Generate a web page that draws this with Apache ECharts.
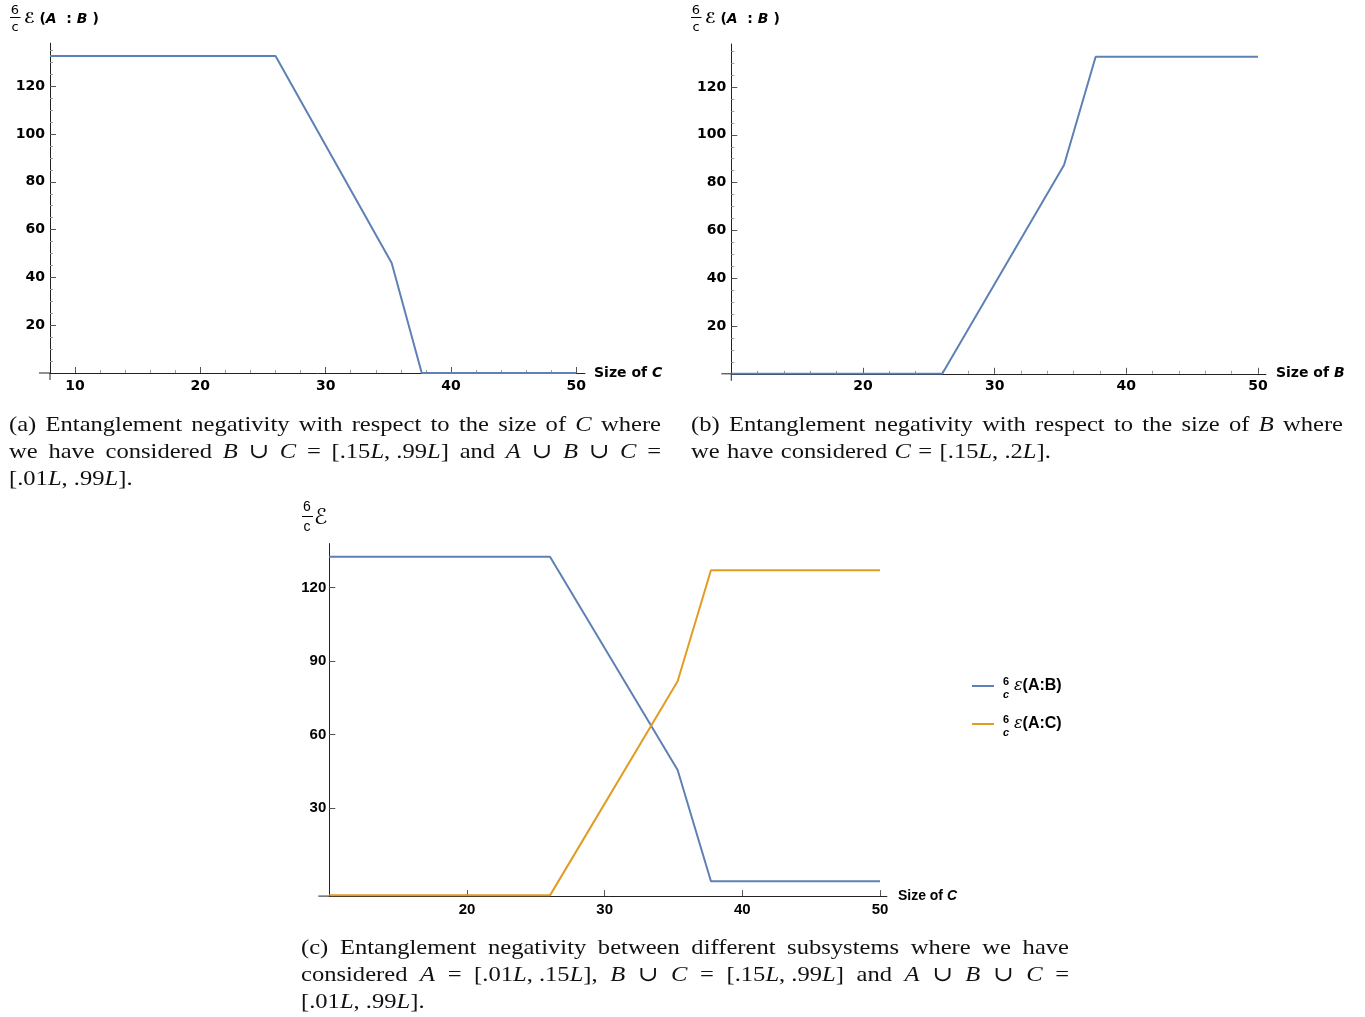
<!DOCTYPE html>
<html>
<head>
<meta charset="utf-8">
<script src="https://cdn.jsdelivr.net/npm/echarts@6/dist/echarts.min.js"></script>
<style>
html,body{margin:0;padding:0;background:#fff;}
#c{width:1365px;height:1017px;}
</style>
</head>
<body>
<div id="c"></div>
<script>
// ---------------- DATA ----------------
// (a) negativity A:B vs size of C
const sizeC_a = [8, 26, 35.27, 37.67, 50];
const negAB_a = [132.6, 132.6, 46.0, 0, 0];
// (b) negativity A:B vs size of B
const sizeB_b = [10, 26.02, 35.27, 37.67, 50];
const negAB_b = [0, 0, 87.4, 132.7, 132.7];
// (c) negativity A:B and A:C vs size of C
const sizeC_c = [10, 26.03, 35.3, 37.72, 50];
const negAB_c = [132.6, 132.6, 45.5, 0.1, 0.1];
const negAC_c = [-5.7, -5.7, 81.8, 127.1, 127.1];

// tick values
const xTicksA = [10, 20, 30, 40, 50];
const xMinorA = [12, 14, 16, 18, 22, 24, 26, 28, 32, 34, 36, 38, 42, 44, 46, 48];
const xTicksB = [20, 30, 40, 50];
const xMinorB = [12, 14, 16, 18, 22, 24, 26, 28, 32, 34, 36, 38, 42, 44, 46, 48];
const yTicksAB = [20, 40, 60, 80, 100, 120];
const yMinorAB = [5, 10, 15, 25, 30, 35, 45, 50, 55, 65, 70, 75, 85, 90, 95, 105, 110, 115, 125, 130, 135];
const xTicksC = [20, 30, 40, 50];
const yTicksC = [30, 60, 90, 120];

const seriesNames = ['ε(A:B)', 'ε(A:C)'];

// captions ({X} = italic math letter, ~ = unbreakable space)
const captionA = [
  {t: '(a) Entanglement negativity with respect to the size of {C} where', j: true},
  {t: 'we have considered {B} ∪ {C} = [.15{L},~.99{L}] and {A} ∪ {B} ∪ {C} =', j: true},
  {t: '[.01{L},~.99{L}].', j: false}
];
const captionB = [
  {t: '(b) Entanglement negativity with respect to the size of {B} where', j: true},
  {t: 'we have considered {C} = [.15{L},~.2{L}].', j: false}
];
const captionC = [
  {t: '(c) Entanglement negativity between different subsystems where we have', j: true},
  {t: 'considered {A} = [.01{L},~.15{L}], {B} ∪ {C} = [.15{L},~.99{L}] and {A} ∪ {B} ∪ {C} =', j: true},
  {t: '[.01{L},~.99{L}].', j: false}
];

// ---------------- STYLE ----------------
const BLUE = '#5E81B5';
const ORANGE = '#E19C24';
const SANS_AB = '"DejaVu Sans", sans-serif';
const SANS_C = '"Liberation Sans", Arial, sans-serif';
const CAP_FAM = '"Liberation Serif", "DejaVu Serif", serif';
const CAP_SIZE = 21;
const CAP_SX = 1.17;

function pairs(xs, ys) { return xs.map((x, i) => [x, ys[i]]); }

function mainX(gi, min, max, ticks, fam, fs, name, nameGap) {
  return {
    type: 'value', gridIndex: gi, min: min, max: max, position: 'bottom',
    axisLine: {show: true, onZero: false, lineStyle: {color: '#222', width: 1}},
    axisTick: {show: true, inside: true, length: 6, customValues: ticks, lineStyle: {color: '#555', width: 1}},
    axisLabel: {show: true, customValues: ticks, margin: 6, color: '#000', fontFamily: fam, fontWeight: 'bold', fontSize: fs},
    splitLine: {show: false},
    name: name, nameLocation: 'end', nameGap: nameGap,
    nameTextStyle: {color: '#000', fontFamily: fam, fontWeight: 'bold', fontSize: 14, verticalAlign: 'middle',
      rich: {bi: {fontFamily: fam, fontWeight: 'bold', fontStyle: 'italic', fontSize: 14, color: '#000'}}}
  };
}
function minorX(gi, min, max, ticks) {
  return {
    type: 'value', gridIndex: gi, min: min, max: max, position: 'bottom',
    axisLine: {show: false, onZero: false},
    axisTick: {show: true, inside: true, length: 3, customValues: ticks, lineStyle: {color: '#9a9a9a', width: 1}},
    axisLabel: {show: false}, splitLine: {show: false}
  };
}
function mainY(gi, min, max, ticks, fam, fs, margin) {
  return {
    type: 'value', gridIndex: gi, min: min, max: max, position: 'left',
    axisLine: {show: true, onZero: false, lineStyle: {color: '#222', width: 1}},
    axisTick: {show: true, inside: true, length: 6, customValues: ticks, lineStyle: {color: '#555', width: 1}},
    axisLabel: {show: true, customValues: ticks, margin: margin, color: '#000', fontFamily: fam, fontWeight: 'bold', fontSize: fs},
    splitLine: {show: false}
  };
}
function minorY(gi, min, max, ticks) {
  return {
    type: 'value', gridIndex: gi, min: min, max: max, position: 'left',
    axisLine: {show: false, onZero: false},
    axisTick: {show: true, inside: true, length: 3, customValues: ticks, lineStyle: {color: '#9a9a9a', width: 1}},
    axisLabel: {show: false}, splitLine: {show: false}
  };
}

const chart = echarts.init(document.getElementById('c'), null, {renderer: 'canvas', width: 1365, height: 1017});

const option = {
  animation: false,
  backgroundColor: '#ffffff',
  grid: [
    {left: 50, top: 43.2, width: 535, height: 329.8, outerBoundsMode: 'none', containLabel: false},
    {left: 731.3, top: 44, width: 534.6, height: 329.8, outerBoundsMode: 'none', containLabel: false},
    {left: 329.3, top: 543.6, width: 557.6, height: 352.5, outerBoundsMode: 'none', containLabel: false}
  ],
  xAxis: [
    mainX(0, 8, 50.7, xTicksA, SANS_AB, 14, 'Size of {bi|C}', 9),
    minorX(0, 8, 50.7, xMinorA),
    mainX(1, 10, 50.6, xTicksB, SANS_AB, 14, 'Size of {bi|B}', 10),
    minorX(1, 10, 50.6, xMinorB),
    mainX(2, 10, 50.5, xTicksC, SANS_C, 15, 'Size of {bi|C}', 11)
  ],
  yAxis: [
    mainY(0, 0, 138, yTicksAB, SANS_AB, 14, 5),
    minorY(0, 0, 138, yMinorAB),
    mainY(1, 0, 138, yTicksAB, SANS_AB, 14, 5),
    minorY(1, 0, 138, yMinorAB),
    mainY(2, -6, 138, yTicksC, SANS_C, 15, 3)
  ],
  legend: {
    show: true, orient: 'vertical', left: 972, top: 678, padding: 0,
    itemWidth: 22, itemHeight: 2, itemGap: 22, icon: 'rect',
    selectedMode: false,
    data: seriesNames,
    textStyle: {
      color: '#000', fontSize: 16, lineHeight: 16,
      rich: {
        s: {width: 15},
        e: {fontFamily: '"DejaVu Serif", serif', fontStyle: 'italic', fontSize: 16, color: '#000'},
        t: {fontFamily: SANS_C, fontWeight: 'bold', fontSize: 16, color: '#000'}
      }
    },
    formatter: function (n) { return '{s| }{e|ε}{t|' + n.slice(1) + '}'; }
  },
  series: [
    {name: 'A:B vs C (a)', type: 'line', xAxisIndex: 0, yAxisIndex: 0, data: pairs(sizeC_a, negAB_a),
      showSymbol: false, symbol: 'none', silent: true, color: BLUE, lineStyle: {color: BLUE, width: 2}, itemStyle: {color: BLUE}},
    {name: 'A:B vs B (b)', type: 'line', xAxisIndex: 2, yAxisIndex: 2, data: pairs(sizeB_b, negAB_b),
      showSymbol: false, symbol: 'none', silent: true, color: BLUE, lineStyle: {color: BLUE, width: 2}, itemStyle: {color: BLUE}},
    {name: seriesNames[0], type: 'line', xAxisIndex: 4, yAxisIndex: 4, data: pairs(sizeC_c, negAB_c),
      showSymbol: false, symbol: 'none', silent: true, color: BLUE, lineStyle: {color: BLUE, width: 2}, itemStyle: {color: BLUE}},
    {name: seriesNames[1], type: 'line', xAxisIndex: 4, yAxisIndex: 4, data: pairs(sizeC_c, negAC_c),
      showSymbol: false, symbol: 'none', silent: true, color: ORANGE, lineStyle: {color: ORANGE, width: 2}, itemStyle: {color: ORANGE}}
  ]
};
chart.setOption(option);

// ---------------- GRAPHICS (labels, captions, axis overhangs) ----------------
const G = [];
function txt(x, y, text, st, extra) {
  G.push(Object.assign({type: 'text', x: x, y: y, silent: true,
    style: Object.assign({text: text, fill: '#000', align: 'center', verticalAlign: 'middle'}, st)}, extra || {}));
}
function seg(x1, y1, x2, y2, color) {
  G.push({type: 'line', silent: true, shape: {x1: x1, y1: y1, x2: x2, y2: y2}, style: {stroke: color || '#222', lineWidth: 1}});
}

// y-axis titles (a) and (b)
function abTitle(dx) {
  txt(15 + dx, 11, '6', {fontFamily: SANS_AB, fontSize: 13});
  seg(10 + dx, 17.5, 20.5 + dx, 17.5, '#000');
  txt(15 + dx, 28, 'c', {fontFamily: SANS_AB, fontSize: 13});
  txt(24 + dx, 19, '{e|ℰ} {n|(}{bi|A}{n|  : }{bi|B}{n| )}', {
    align: 'left', fontFamily: SANS_AB, fontSize: 14,
    rich: {
      e: {fontFamily: SANS_AB, fontSize: 15, fontWeight: 'bold', fill: '#000'},
      n: {fontFamily: SANS_AB, fontSize: 14, fontWeight: 'bold', fill: '#000'},
      bi: {fontFamily: SANS_AB, fontSize: 14, fontWeight: 'bold', fontStyle: 'italic', fill: '#000'}
    }
  });
}
abTitle(0);
abTitle(681);

// y-axis title (c)
txt(307, 507, '6', {fontFamily: SANS_C, fontSize: 14});
seg(302, 516.5, 313, 516.5, '#000');
txt(307, 527, 'c', {fontFamily: SANS_C, fontSize: 14});
txt(314, 518, 'ℰ', {align: 'left', fontFamily: SANS_AB, fontSize: 22});

// legend fractions
[686, 724].forEach(function (ly) {
  txt(1006, ly - 4, '6', {fontFamily: SANS_C, fontSize: 11, fontWeight: 'bold'});
  txt(1006, ly + 9, 'c', {fontFamily: SANS_C, fontSize: 11, fontWeight: 'bold', fontStyle: 'italic'});
});

// axis overhangs (Mathematica style crossing)
function overhang(gi, xv, yv, left, down) {
  const p = chart.convertToPixel({gridIndex: gi}, [xv, yv]);
  if (left) seg(p[0] - left, p[1], p[0], p[1]);
  if (down) seg(p[0], p[1], p[0], p[1] + down);
}
overhang(0, 8, 0, 11, 7);
overhang(1, 10, 0, 10, 7);
overhang(2, 10, -6, 11, 0);

// captions, justified word by word
const mctx = document.createElement('canvas').getContext('2d');
function mw(t, it) {
  mctx.font = (it ? 'italic ' : 'normal ') + CAP_SIZE + 'px ' + CAP_FAM;
  return mctx.measureText(t).width * CAP_SX;
}
function segsOf(word) {
  const out = [];
  const re = /\{([^}]*)\}/g;
  let last = 0, m;
  while ((m = re.exec(word))) {
    if (m.index > last) out.push({t: word.slice(last, m.index).replace(/~/g, ' '), it: false});
    out.push({t: m[1], it: true});
    last = re.lastIndex;
  }
  if (last < word.length) out.push({t: word.slice(last).replace(/~/g, ' '), it: false});
  return out;
}
function caption(lines, x0, y0, width, lh) {
  lines.forEach(function (ln, i) {
    const words = ln.t.split(' ').map(function (w) {
      const s = segsOf(w);
      return {s: s, w: s.reduce(function (a, b) { return a + mw(b.t, b.it); }, 0)};
    });
    const total = words.reduce(function (a, b) { return a + b.w; }, 0);
    const gap = ln.j ? (width - total) / (words.length - 1) : mw(' ', false) * 1.2;
    let x = x0;
    const y = y0 + i * lh;
    words.forEach(function (wd) {
      let xx = x;
      wd.s.forEach(function (sg) {
        txt(xx, y, sg.t, {align: 'left', fontFamily: CAP_FAM, fontSize: CAP_SIZE, fontStyle: sg.it ? 'italic' : 'normal', fill: '#111'},
          {scaleX: CAP_SX});
        xx += mw(sg.t, sg.it);
      });
      x += wd.w + gap;
    });
  });
}
caption(captionA, 9, 425, 652, 27);
caption(captionB, 691, 425, 652, 27);
caption(captionC, 301, 948, 768, 27);

chart.setOption({graphic: G});
</script>
</body>
</html>
